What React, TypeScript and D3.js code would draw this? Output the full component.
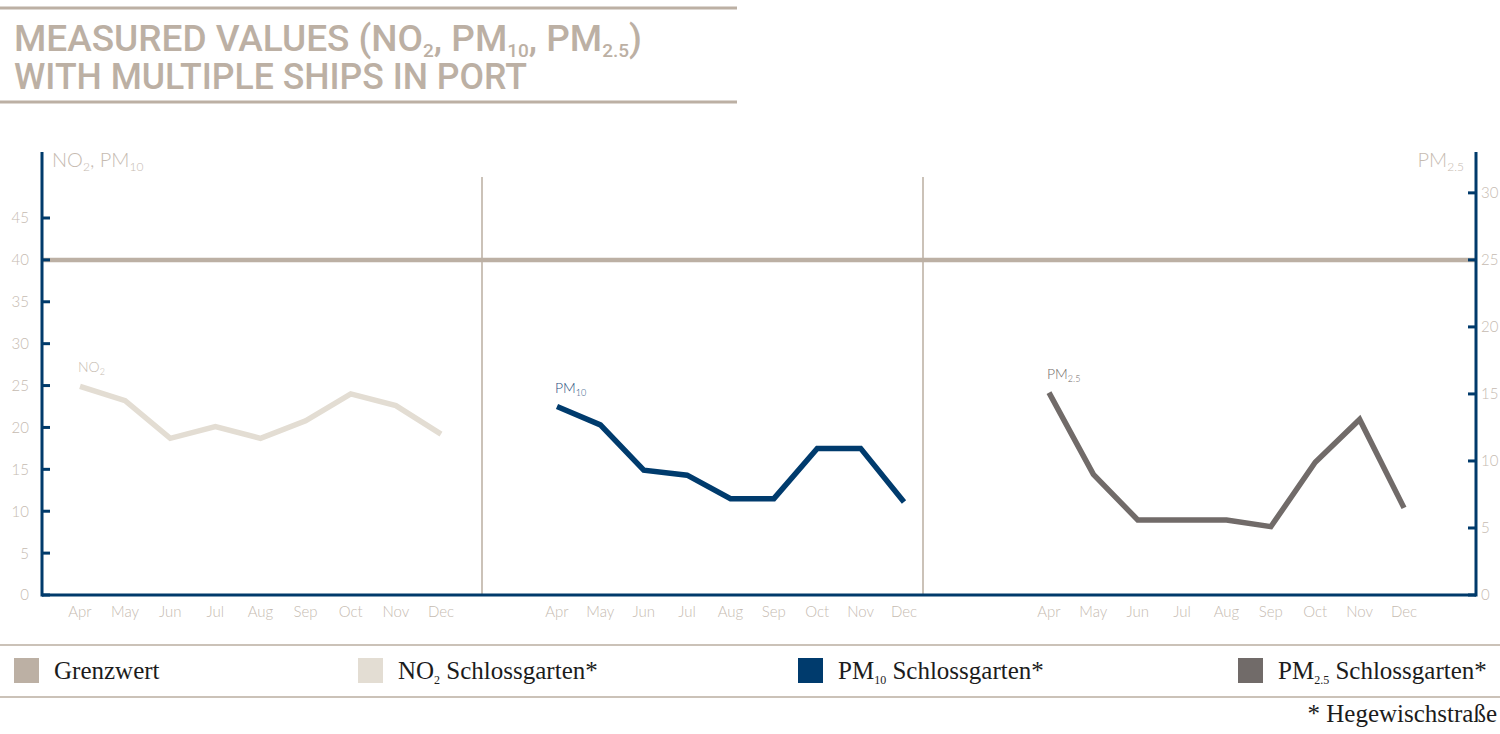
import React from 'react';
import * as d3 from 'd3';

// ---------- data ----------
const months = ['Apr', 'May', 'Jun', 'Jul', 'Aug', 'Sep', 'Oct', 'Nov', 'Dec'];
const no2Values = [24.9, 23.2, 18.7, 20.1, 18.7, 20.8, 24.0, 22.6, 19.2];
const pm10Values = [22.5, 20.3, 14.9, 14.3, 11.5, 11.5, 17.5, 17.5, 11.1];
const pm25Values = [15.1, 9.0, 5.6, 5.6, 5.6, 5.1, 9.9, 13.1, 6.5];
const leftTicks = [0, 5, 10, 15, 20, 25, 30, 35, 40, 45];
const rightTicks = [0, 5, 10, 15, 20, 25, 30];
const limitLeft = 40; // NO2 / PM10 limit
const limitRight = 25; // PM2.5 limit
const legendNames = ['Grenzwert', 'NO', 'PM', 'PM'];
const legendSubs = ['', '2', '10', '2.5'];
const legendSuffix = ['', ' Schlossgarten*', ' Schlossgarten*', ' Schlossgarten*'];
const footnote = '* Hegewischstraße';

// ---------- style ----------
const C = {
  beige: '#bcb0a4',
  tickText: '#c6bbb1',
  no2: '#e3ddd3',
  pm10: '#003b6d',
  pm25: '#716b69',
  axis: '#003a6b',
  divider: '#cbc2b8',
  text: '#1c1c1c',
};
const legendColors = [C.beige, C.no2, C.pm10, C.pm25];
const legendX = [14, 358, 798, 1238];
const sans = 'Lato, "Open Sans", sans-serif';
const serif = '"Liberation Serif", "Times New Roman", serif';

const W = 1500;
const H = 734;
const axL = 42;
const axR = 1476;
const axTop = 152;

export default function App() {
  const yLeft = d3.scaleLinear().domain([0, 45]).range([595, 218]);
  const yRight = d3
    .scaleLinear()
    .domain([0, limitRight])
    .range([yLeft(0), yLeft(limitLeft)]);

  const panels = [
    { values: no2Values, y: yLeft, color: C.no2, labelColor: C.tickText, name: 'NO', sub: '2', range: [80, 441] },
    { values: pm10Values, y: yLeft, color: C.pm10, labelColor: '#1f4f7e', name: 'PM', sub: '10', range: [557, 904] },
    { values: pm25Values, y: yRight, color: C.pm25, labelColor: C.pm25, name: 'PM', sub: '2.5', range: [1049, 1404] },
  ];
  const dividers = [482, 923];

  return (
    <div style={{ position: 'absolute', left: 0, top: 0 }}>
      <svg width={W} height={H} style={{ display: 'block', background: '#fff' }}>
        {/* title */}
        <line x1={0} x2={737} y1={8} y2={8} stroke={C.beige} strokeWidth={3} />
        <line x1={0} x2={737} y1={102} y2={102} stroke={C.beige} strokeWidth={3} />
        <text
          x={14}
          y={51}
          fontFamily="Roboto, sans-serif"
          fontWeight={500}
          fontSize={37}
          fill={C.beige}
          textLength={628}
          lengthAdjust="spacingAndGlyphs"
        >
          MEASURED VALUES (NO
          <tspan fontSize={19} dy={6}>2</tspan>
          <tspan dy={-6}>, PM</tspan>
          <tspan fontSize={19} dy={6}>10</tspan>
          <tspan dy={-6}>, PM</tspan>
          <tspan fontSize={19} dy={6}>2.5</tspan>
          <tspan dy={-6}>)</tspan>
        </text>
        <text
          x={14}
          y={89}
          fontFamily="Roboto, sans-serif"
          fontWeight={500}
          fontSize={37}
          fill={C.beige}
          textLength={513}
          lengthAdjust="spacingAndGlyphs"
        >
          WITH MULTIPLE SHIPS IN PORT
        </text>

        {/* axis titles */}
        <text x={52} y={167} fontFamily={sans} fontWeight={300} fontSize={20} fill={C.tickText}>
          NO<tspan fontSize={12} dy={4}>2</tspan>
          <tspan dy={-4}>, PM</tspan>
          <tspan fontSize={12} dy={4}>10</tspan>
        </text>
        <text x={1464} y={167} fontFamily={sans} fontWeight={300} fontSize={20} fill={C.tickText} textAnchor="end">
          PM<tspan fontSize={12} dy={4}>2.5</tspan>
        </text>

        {/* dividers */}
        {dividers.map((x) => (
          <line key={x} x1={x} x2={x} y1={177} y2={yLeft(0)} stroke={C.divider} strokeWidth={2} />
        ))}

        {/* limit line */}
        <line x1={axL} x2={axR} y1={yLeft(limitLeft)} y2={yLeft(limitLeft)} stroke={C.beige} strokeWidth={4.5} />

        {/* axes */}
        <line x1={axL} x2={axL} y1={axTop} y2={yLeft(0) + 1.5} stroke={C.axis} strokeWidth={3} />
        <line x1={axR} x2={axR} y1={axTop} y2={yLeft(0) + 1.5} stroke={C.axis} strokeWidth={3} />
        <line x1={axL} x2={axR} y1={yLeft(0)} y2={yLeft(0)} stroke={C.axis} strokeWidth={3} />
        {leftTicks.map((t) => (
          <g key={'l' + t}>
            <line x1={axL} x2={axL + 8} y1={yLeft(t)} y2={yLeft(t)} stroke={C.axis} strokeWidth={3} />
            <text
              x={29}
              y={yLeft(t)}
              dy="0.36em"
              textAnchor="end"
              fontFamily={sans}
              fontWeight={300}
              fontSize={15}
              fill={C.tickText}
            >
              {t}
            </text>
          </g>
        ))}
        {rightTicks.map((t) => (
          <g key={'r' + t}>
            <line x1={axR - 8} x2={axR} y1={yRight(t)} y2={yRight(t)} stroke={C.axis} strokeWidth={3} />
            <text x={1481} y={yRight(t)} dy="0.36em" fontFamily={sans} fontWeight={300} fontSize={15} fill={C.tickText}>
              {t}
            </text>
          </g>
        ))}

        {/* panels */}
        {panels.map((p, i) => {
          const x = d3.scalePoint<string>().domain(months).range(p.range as [number, number]);
          const line = d3
            .line<number>()
            .x((_, j) => x(months[j]) as number)
            .y((d) => p.y(d));
          const x0 = x(months[0]) as number;
          const y0 = p.y(p.values[0]);
          return (
            <g key={i}>
              {months.map((m) => (
                <text
                  key={m}
                  x={x(m)}
                  y={617}
                  textAnchor="middle"
                  fontFamily={sans}
                  fontWeight={300}
                  fontSize={15}
                  fill={C.tickText}
                >
                  {m}
                </text>
              ))}
              <path d={line(p.values) || ''} fill="none" stroke={p.color} strokeWidth={5.5} strokeLinejoin="miter" />
              <text x={x0 - 2} y={y0 - 14} fontFamily={sans} fontWeight={300} fontSize={14} fill={p.labelColor}>
                {p.name}
                <tspan fontSize={9} dy={3}>{p.sub}</tspan>
              </text>
            </g>
          );
        })}

        {/* legend */}
        <line x1={0} x2={W} y1={645} y2={645} stroke={C.divider} strokeWidth={2} />
        <line x1={0} x2={W} y1={697} y2={697} stroke={C.divider} strokeWidth={2} />
        {legendNames.map((n, i) => (
          <g key={i}>
            <rect x={legendX[i]} y={658} width={25} height={25} fill={legendColors[i]} />
            <text x={legendX[i] + 40} y={679} fontFamily={serif} fontSize={25} fill={C.text}>
              {n}
              {legendSubs[i] ? (
                <>
                  <tspan fontSize={12} dy={5}>{legendSubs[i]}</tspan>
                  <tspan dy={-5}>{legendSuffix[i]}</tspan>
                </>
              ) : null}
            </text>
          </g>
        ))}
        <text x={1497} y={722} textAnchor="end" fontFamily={serif} fontSize={25} fill={C.text}>
          {footnote}
        </text>
      </svg>
    </div>
  );
}
